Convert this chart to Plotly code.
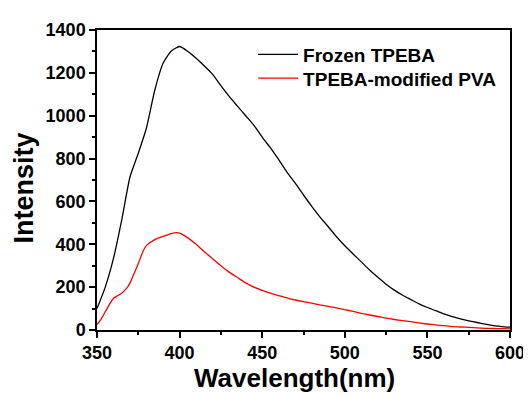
import plotly.graph_objects as go

wl_black = [350, 355, 360, 365, 370, 375, 380, 385, 390, 395, 400, 405, 410, 415, 420, 425,
            430, 435, 440, 445, 450, 455, 460, 465, 470, 475, 480, 485, 490, 495, 500, 505,
            510, 515, 520, 525, 530, 535, 540, 545, 550, 555, 560, 565, 570, 575, 580, 585,
            590, 595, 600]
frozen_tpeba = [100, 200, 335, 515, 715, 825, 945, 1120, 1245, 1302, 1323, 1300, 1268, 1232,
                1193, 1140, 1090, 1045, 1000, 955, 900, 850, 795, 737, 685, 630, 577, 527,
                482, 435, 393, 355, 318, 280, 246, 214, 186, 162, 142, 122, 105, 90, 75, 62,
                52, 43, 35, 27, 20, 16, 13]

wl_red = [350, 352, 355, 358, 360, 362, 365, 368, 370, 372, 375, 378, 380, 385, 390, 395,
          398, 400, 405, 410, 415, 420, 425, 430, 435, 440, 445, 450, 455, 460, 465, 470,
          475, 480, 485, 490, 495, 500, 505, 510, 515, 520, 525, 530, 535, 540, 545, 550,
          555, 560, 565, 570, 575, 580, 585, 590, 595, 600]
tpeba_pva = [25, 45, 85, 125, 148, 158, 172, 195, 220, 255, 310, 370, 395, 422, 437, 450,
             454, 452, 430, 400, 365, 333, 300, 270, 245, 220, 200, 185, 172, 160, 150, 140,
             132, 125, 117, 110, 103, 95, 87, 78, 70, 63, 55, 49, 44, 39, 33, 28, 24, 20,
             16, 14, 12, 10, 8, 7, 6, 5]

x_ticks = [350, 400, 450, 500, 550, 600]
y_ticks = [0, 200, 400, 600, 800, 1000, 1200, 1400]

FONT = "Liberation Sans"

fig = go.Figure()
fig.add_trace(go.Scatter(x=wl_black, y=frozen_tpeba, mode="lines",
                         line=dict(color="black", width=1.3, shape="spline", smoothing=0.6),
                         name="Frozen TPEBA", legend="legend"))
fig.add_trace(go.Scatter(x=wl_red, y=tpeba_pva, mode="lines",
                         line=dict(color="#ff0000", width=1.3, shape="spline", smoothing=0.6),
                         name="TPEBA-modified PVA", legend="legend2"))

axis_common = dict(showline=True, linecolor="black", linewidth=1.5, mirror=True,
                   ticks="outside", ticklen=6, tickwidth=1.5, tickcolor="black",
                   showgrid=False, zeroline=False,
                   tickfont=dict(family=FONT, size=18, color="black", weight="bold"))

fig.update_xaxes(range=[350, 600], tickvals=x_ticks,
                 minor=dict(ticks="outside", ticklen=3, tickwidth=1.5, tickcolor="black", dtick=25),
                 **axis_common)
fig.update_yaxes(range=[0, 1400], tickvals=y_ticks,
                 minor=dict(ticks="outside", ticklen=3, tickwidth=1.5, tickcolor="black", dtick=100),
                 **axis_common)

fig.add_annotation(text="Wavelength(nm)", xref="paper", yref="paper",
                   x=0.478, y=-0.161, xanchor="center", yanchor="middle", showarrow=False,
                   font=dict(family=FONT, size=26, color="black", weight="bold"))
fig.add_annotation(text="Intensity", xref="paper", yref="paper", textangle=-90,
                   x=-0.177, y=0.475, xanchor="center", yanchor="middle", showarrow=False,
                   font=dict(family=FONT, size=27, color="black", weight="bold"))

legend_style = dict(xanchor="left", yanchor="middle", bgcolor="rgba(0,0,0,0)", borderwidth=0,
                    font=dict(family=FONT, size=19, color="black", weight="bold"),
                    itemwidth=40)

fig.update_layout(
    width=531, height=397,
    margin=dict(l=89, r=29, t=17, b=75),
    paper_bgcolor="white", plot_bgcolor="white",
    showlegend=True,
    legend=dict(x=0.378, y=0.918, **legend_style),
    legend2=dict(x=0.378, y=0.839, **legend_style),
)

fig.write_html("out.html")
